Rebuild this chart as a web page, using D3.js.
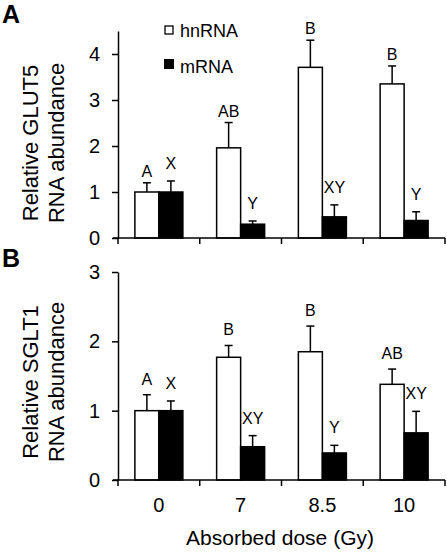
<!DOCTYPE html>
<html><head><meta charset="utf-8">
<script src="https://cdn.jsdelivr.net/npm/d3@7"></script>
<style>
html,body{margin:0;padding:0;background:#fff;}
svg{display:block;font-family:"Liberation Sans",Arial,sans-serif;}
</style></head>
<body>
<svg id="chart" width="447" height="552"></svg>
<script>
const categories = ["0", "7", "8.5", "10"];
const seriesNames = ["hnRNA", "mRNA"];
// Panel A: GLUT5
const glut5Hn = [1.0, 1.96, 3.71, 3.35];
const glut5HnErr = [0.20, 0.55, 0.59, 0.39];
const glut5M = [1.0, 0.30, 0.46, 0.38];
const glut5MErr = [0.24, 0.07, 0.26, 0.19];
const glut5HnLetters = ["A", "AB", "B", "B"];
const glut5MLetters = ["X", "Y", "XY", "Y"];
// Panel B: SGLT1
const sglt1Hn = [1.0, 1.77, 1.85, 1.38];
const sglt1HnErr = [0.23, 0.17, 0.37, 0.22];
const sglt1M = [1.0, 0.48, 0.39, 0.68];
const sglt1MErr = [0.14, 0.16, 0.11, 0.31];
const sglt1HnLetters = ["A", "B", "B", "AB"];
const sglt1MLetters = ["X", "XY", "Y", "XY"];
const glut5Ticks = [0, 1, 2, 3, 4];
const sglt1Ticks = [0, 1, 2, 3];

const svg = d3.select("#chart");
const fills = {hnRNA: "#fff", mRNA: "#000"};

const x = d3.scaleBand().domain(categories).range([118, 445]).padding(0);
const bw = x.bandwidth();
const x1 = d3.scaleBand().domain(seriesNames).range([bw / 2 - 24, bw / 2 + 24]).padding(0);

function panel(cfg) {
  const g = svg.append("g");
  const y = d3.scaleLinear().domain([0, cfg.max]).range([cfg.bottom, cfg.top]);
  const rows = [];
  categories.forEach((c, i) => {
    rows.push({c, s: "hnRNA", v: cfg.hn[i], e: cfg.hnErr[i], l: cfg.hnL[i], gap: cfg.hnGap});
    rows.push({c, s: "mRNA", v: cfg.m[i], e: cfg.mErr[i], l: cfg.mL[i], gap: cfg.mGap});
  });
  // error bars
  const eg = g.append("g").attr("stroke", "#000").attr("stroke-width", 1.5);
  rows.forEach(d => {
    const cx = x(d.c) + x1(d.s) + x1.bandwidth() / 2;
    eg.append("line").attr("x1", cx).attr("x2", cx).attr("y1", y(d.v)).attr("y2", y(d.v + d.e));
    eg.append("line").attr("x1", cx - 4).attr("x2", cx + 4).attr("y1", y(d.v + d.e)).attr("y2", y(d.v + d.e));
  });
  // bars
  g.append("g").selectAll("rect").data(rows).join("rect")
    .attr("x", d => x(d.c) + x1(d.s))
    .attr("y", d => y(d.v))
    .attr("width", x1.bandwidth())
    .attr("height", d => y(0) - y(d.v))
    .attr("fill", d => fills[d.s])
    .attr("stroke", "#000").attr("stroke-width", 1.5);
  // letters
  g.append("g").selectAll("text").data(rows).join("text")
    .attr("x", d => x(d.c) + x1(d.s) + x1.bandwidth() / 2)
    .attr("y", d => y(d.v + d.e) - d.gap)
    .attr("text-anchor", "middle")
    .attr("font-size", 16)
    .text(d => d.l);
  // y axis
  const ya = g.append("g").attr("transform", "translate(118,0)")
    .call(d3.axisLeft(y).tickValues(cfg.ticks).tickFormat(d3.format("d")).tickSize(6).tickSizeOuter(0).tickPadding(12));
  ya.select(".domain").attr("stroke-width", 1.5);
  ya.selectAll(".tick line").attr("stroke-width", 1.5);
  ya.selectAll("text").attr("font-size", 20).attr("font-family", "Liberation Sans, Arial, sans-serif").attr("fill", "#000");
  // x axis line and boundary ticks
  g.append("line").attr("x1", 113).attr("x2", x.range()[1]).attr("y1", y(0)).attr("y2", y(0))
    .attr("stroke", "#000").attr("stroke-width", 1.5);
  const bounds = categories.map(c => x(c)).concat([x.range()[1]]);
  g.append("g").selectAll("line").data(bounds).join("line")
    .attr("x1", d => d).attr("x2", d => d).attr("y1", y(0)).attr("y2", y(0) + 6)
    .attr("stroke", "#000").attr("stroke-width", 1.5);
  // y title
  const t = g.append("text").attr("transform", `translate(37.5,${cfg.titleY}) rotate(-90)`)
    .attr("text-anchor", "middle").attr("font-size", 22);
  t.append("tspan").attr("x", 0).attr("dy", 0).text(cfg.title1);
  t.append("tspan").attr("x", 0).attr("dy", 26).text("RNA abundance");
  // panel letter
  svg.append("text").attr("x", 2).attr("y", cfg.letterY).attr("font-size", 25).attr("font-weight", "bold").text(cfg.letter);
  return y;
}

panel({max: 4.5, top: 31, bottom: 238, ticks: glut5Ticks, hn: glut5Hn, hnErr: glut5HnErr, m: glut5M, mErr: glut5MErr,
  hnL: glut5HnLetters, mL: glut5MLetters, hnGap: 6, mGap: 12, title1: "Relative GLUT5", titleY: 143, letter: "A", letterY: 23});
const yB = panel({max: 3, top: 272, bottom: 480, ticks: sglt1Ticks, hn: sglt1Hn, hnErr: sglt1HnErr, m: sglt1M, mErr: sglt1MErr,
  hnL: sglt1HnLetters, mL: sglt1MLetters, hnGap: 10, mGap: 12, title1: "Relative SGLT1", titleY: 382, letter: "B", letterY: 267});

// x labels for panel B
svg.append("g").selectAll("text").data(categories).join("text")
  .attr("x", d => x(d) + bw / 2).attr("y", 512)
  .attr("text-anchor", "middle").attr("font-size", 20).text(d => d);
svg.append("text").attr("x", 280).attr("y", 545).attr("text-anchor", "middle").attr("font-size", 21).text("Absorbed dose (Gy)");

// legend
const leg = svg.append("g");
leg.append("rect").attr("x", 165).attr("y", 26).attr("width", 8).attr("height", 8).attr("fill", "#fff").attr("stroke", "#000").attr("stroke-width", 1.3);
leg.append("rect").attr("x", 164).attr("y", 59).attr("width", 10).attr("height", 10).attr("fill", "#000");
leg.append("text").attr("x", 180).attr("y", 36.5).attr("font-size", 18).text(seriesNames[0]);
leg.append("text").attr("x", 180).attr("y", 72.5).attr("font-size", 18).text(seriesNames[1]);
</script>
</body></html>
